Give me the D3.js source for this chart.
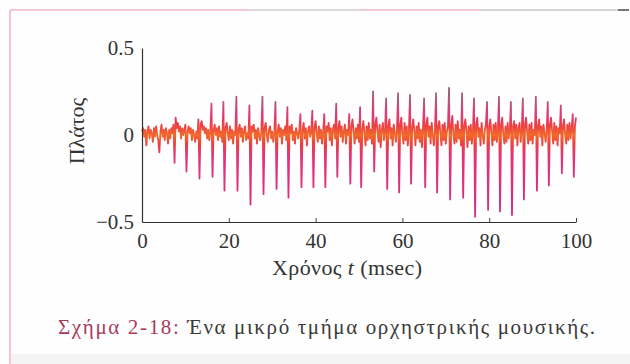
<!DOCTYPE html>
<html><head><meta charset="utf-8">
<script src="https://cdn.jsdelivr.net/npm/d3@7"></script>
<style>
html,body{margin:0;padding:0;background:#fff;}
svg{display:block;}
svg text{font-family:"Liberation Serif","Times New Roman","DejaVu Serif",serif;}
</style></head>
<body>
<svg id="chart" width="630" height="364"></svg>
<script>
// ---- data ----
const sampleStepMs = 0.25;           // sampling interval of the trace
const amplitude = [
 0.02,0.04,-0.01,0.03,-0.06,0.02,0.05,-0.02,0.03,0.01,
 -0.04,0.04,-0.01,0.05,0.00,-0.03,-0.10,0.02,0.06,-0.01,
 0.03,-0.03,0.04,0.01,-0.05,0.03,-0.02,0.04,0.01,0.06,
 -0.16,0.10,0.04,0.07,0.02,0.05,-0.02,0.04,0.00,0.03,
 0.06,-0.21,0.02,0.05,0.01,0.04,-0.03,0.03,0.00,-0.04,
 0.02,-0.02,0.09,-0.25,0.06,0.08,0.03,0.05,0.01,0.04,
 -0.02,0.03,-0.03,0.02,0.18,-0.24,0.03,0.06,0.00,0.04,
 -0.03,0.05,-0.01,0.02,-0.04,0.19,-0.32,0.04,0.07,0.01,
 -0.03,0.05,-0.02,0.03,-0.05,0.02,0.00,0.22,-0.32,0.03,
 0.06,-0.01,0.04,-0.04,0.02,0.05,-0.03,0.01,-0.02,0.17,
 -0.40,0.05,0.02,0.06,-0.02,0.03,-0.05,0.04,0.00,-0.03,
 0.02,0.22,-0.34,0.04,0.07,0.00,-0.04,0.03,0.05,-0.02,
 0.02,-0.04,0.01,0.19,-0.31,0.02,0.06,-0.01,0.04,-0.05,
 0.03,0.00,0.05,-0.03,0.16,-0.36,0.05,0.01,0.06,-0.03,
 0.02,-0.05,0.04,0.01,-0.02,0.03,0.12,-0.30,0.03,0.07,
 -0.02,0.04,-0.06,0.02,0.05,-0.01,0.02,0.14,-0.30,0.04,
 0.08,0.01,-0.04,0.05,-0.02,0.03,-0.05,0.02,0.12,-0.30,
 0.05,0.02,0.07,-0.03,0.04,-0.06,0.03,0.06,-0.02,0.18,
 -0.24,0.04,0.08,-0.01,0.05,-0.04,0.02,0.06,-0.05,0.03,
 0.00,0.12,-0.28,0.05,0.09,0.02,-0.05,0.04,-0.02,0.06,
 -0.04,0.16,-0.30,0.03,0.08,0.01,-0.06,0.05,-0.03,0.07,
 -0.02,0.03,-0.05,0.25,-0.21,0.06,0.10,0.02,-0.04,0.06,
 -0.07,0.03,0.07,-0.03,0.02,0.21,-0.31,0.05,0.09,-0.02,
 0.04,-0.06,0.06,0.01,-0.04,0.03,0.24,-0.33,0.06,0.10,
 0.00,-0.05,0.07,-0.03,0.05,-0.06,0.02,0.23,-0.28,0.04,
 0.09,0.02,-0.06,0.05,-0.02,0.07,-0.04,0.03,-0.07,0.04,
 0.21,-0.30,0.06,0.10,-0.01,0.05,-0.05,0.07,0.00,-0.06,
 0.03,0.24,-0.33,0.05,0.08,0.01,-0.06,0.06,-0.03,0.07,
 -0.05,0.02,0.05,0.27,-0.37,0.06,0.11,0.00,-0.05,0.06,
 -0.04,0.08,-0.02,0.03,-0.06,0.24,-0.36,0.05,0.09,0.02,
 -0.07,0.05,-0.03,0.06,-0.05,0.02,0.21,-0.47,0.06,0.10,
 -0.01,0.04,-0.06,0.07,0.00,-0.05,0.03,0.06,0.19,-0.43,
 0.05,0.09,0.01,-0.06,0.06,-0.03,0.07,-0.04,0.02,0.22,
 -0.44,0.06,0.10,0.00,-0.05,0.05,-0.04,0.07,-0.02,0.03,
 0.19,-0.46,0.05,0.08,-0.02,0.06,-0.06,0.04,0.07,-0.04,
 0.02,0.21,-0.37,0.06,0.10,0.01,-0.05,0.06,-0.03,0.07,
 -0.05,0.03,0.00,0.22,-0.32,0.05,0.09,-0.01,0.05,-0.06,
 0.06,0.01,-0.04,0.03,0.19,-0.29,0.06,0.10,0.02,-0.05,
 0.07,-0.03,0.05,-0.06,0.04,0.01,0.17,-0.22,0.05,0.09,
 0.00,-0.05,0.06,-0.03,0.07,-0.02,0.04,0.12,-0.24,0.05,
 0.10
];
const xTicks = [0, 20, 40, 60, 80, 100];
const xTickLabels = ["0", "20", "40", "60", "80", "100"];
const yTicks = [-0.5, 0, 0.5];
const yTickLabels = ["\u22120.5", "0", "0.5"];
const xTitle = ["Χρόνος ", "t", " (msec)"];
const yTitle = "Πλάτος";
const captionLabel = "Σχήμα 2-18:";
const captionText = " Ένα μικρό τμήμα ορχηστρικής μουσικής.";

// ---- drawing ----
const svg = d3.select("#chart");

// frame
svg.append("rect").attr("x",0).attr("y",0).attr("width",630).attr("height",364).attr("fill","#fefefe");
svg.append("line").attr("x1",10).attr("x2",10).attr("y1",10).attr("y2",364)
  .attr("stroke","#f1b7c8").attr("stroke-width",1.6);
const topSegs = [[10,250,"#f1b7c8"],[250,360,"#cfcfcf"],[360,480,"#f1b7c8"],[480,618,"#c9c9c9"],[618,629,"#555"]];
topSegs.forEach(s=>svg.append("line").attr("x1",s[0]).attr("x2",s[1]).attr("y1",10).attr("y2",10)
  .attr("stroke",s[2]).attr("stroke-width",1.6));
svg.append("rect").attr("x",11).attr("y",354).attr("width",619).attr("height",10).attr("fill","#f4f4f4");

const x = d3.scaleLinear().domain([0,100]).range([142,576]);
const y = d3.scaleLinear().domain([-0.5,0.5]).range([222,48]);

// gradient stroke for the trace
const defs = svg.append("defs");
const grad = defs.append("linearGradient").attr("id","traceGrad")
  .attr("gradientUnits","userSpaceOnUse").attr("x1",0).attr("x2",0)
  .attr("y1",y(0.5)).attr("y2",y(-0.5));
[[0,"#6f6a6c"],[0.30,"#b05a78"],[0.38,"#e2387a"],[0.45,"#ec4040"],[0.5,"#f26a2a"],
 [0.55,"#ec4040"],[0.62,"#e2347a"],[1,"#d82a82"]]
 .forEach(s=>grad.append("stop").attr("offset",s[0]).attr("stop-color",s[1]));

const line = d3.line().x((d,i)=>x(i*sampleStepMs)).y(d=>y(d));
svg.append("path").datum(amplitude).attr("d",line)
  .attr("fill","none").attr("stroke","url(#traceGrad)").attr("stroke-width",1.8)
  .attr("stroke-linejoin","round");

// axes
const gx = svg.append("g").attr("transform",`translate(0,${y(-0.5)})`)
  .call(d3.axisBottom(x).tickValues(xTicks).tickFormat((d,i)=>xTickLabels[i])
    .tickSizeInner(-4).tickSizeOuter(0).tickPadding(11));
const gy = svg.append("g").attr("transform",`translate(${x(0)},0)`)
  .call(d3.axisLeft(y).tickValues(yTicks).tickFormat((d,i)=>yTickLabels[i])
    .tickSizeInner(0).tickSizeOuter(0).tickPadding(8));
[gx,gy].forEach(g=>{
  g.attr("font-family",null);
  g.select(".domain").attr("stroke","#333").attr("stroke-width",1.2);
  g.selectAll(".tick line").attr("stroke","#444");
  g.selectAll("text").attr("font-size",21).attr("fill","#333");
});

// axis titles
const xt = svg.append("text").attr("x",347).attr("y",275).attr("text-anchor","middle")
  .attr("font-size",22).attr("fill","#333").attr("textLength",150).attr("lengthAdjust","spacing");
xt.append("tspan").text(xTitle[0]);
xt.append("tspan").attr("font-style","italic").text(xTitle[1]);
xt.append("tspan").text(xTitle[2]);

svg.append("text").attr("transform","translate(84,131) rotate(-90)").attr("text-anchor","middle")
  .attr("font-size",22).attr("fill","#333").text(yTitle);

// caption
const cap = svg.append("text").attr("x",58).attr("y",334).attr("font-size",21)
  .attr("textLength",537).attr("lengthAdjust","spacing");
cap.append("tspan").attr("fill","#a83a5c").text(captionLabel);
cap.append("tspan").attr("fill","#3a3a3a").text(captionText);
</script>
</body></html>
